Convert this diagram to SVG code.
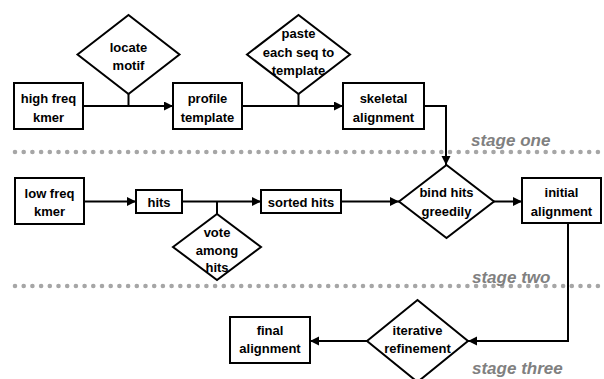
<svg xmlns="http://www.w3.org/2000/svg" width="604" height="379" viewBox="0 0 604 379">
<style>
.box{fill:#fff;stroke:#000;stroke-width:2}
.dia{fill:#fff;stroke:#000;stroke-width:2;stroke-linejoin:miter}
.t{font-family:"Liberation Sans",Arial,sans-serif;font-weight:bold;font-size:13px;fill:#000;text-anchor:middle}
.st{font-family:"Liberation Sans",Arial,sans-serif;font-weight:bold;font-style:italic;font-size:17px;fill:#808080}
.dots{stroke:#a6a6a6;stroke-width:4.6;stroke-linecap:round;stroke-dasharray:0 8.7;fill:none}
.c{fill:none;stroke:#000;stroke-width:2}
</style>
<defs>
<marker id="ah" markerUnits="userSpaceOnUse" markerWidth="10" markerHeight="10" refX="9" refY="4.5" orient="auto">
<path d="M0,0 L9,4.5 L0,9 z" fill="#000"/>
</marker>
</defs>
<rect width="604" height="379" fill="#fff"/>
<g id="separators">
<line class="dots" x1="15" y1="152" x2="604" y2="152"/>
<line class="dots" x1="15" y1="286" x2="604" y2="286"/>
<text class="st" x="471" y="146">stage one</text>
<text class="st" x="472" y="283">stage two</text>
<text class="st" x="472" y="374">stage three</text>
</g>
<g id="connectors">
<path class="c" d="M83,106 H173" marker-end="url(#ah)"/>
<path class="c" d="M128.5,94 V106"/>
<path class="c" d="M242,106 H343" marker-end="url(#ah)"/>
<path class="c" d="M298.5,94 V106"/>
<path class="c" d="M424,106 H446 V165" marker-end="url(#ah)"/>
<path class="c" d="M84,201.5 H136" marker-end="url(#ah)"/>
<path class="c" d="M182,201.5 H261" marker-end="url(#ah)"/>
<path class="c" d="M217,214 V201.5"/>
<path class="c" d="M341,201.5 H399" marker-end="url(#ah)"/>
<path class="c" d="M494,201.5 H522" marker-end="url(#ah)"/>
<path class="c" d="M568,223 V341 H468" marker-end="url(#ah)"/>
<path class="c" d="M367,341 H310" marker-end="url(#ah)"/>
</g>
<g id="high_freq_kmer">
<rect class="box" x="14" y="83" width="69" height="46"/>
<text class="t" x="48.5" y="102.5">high freq</text>
<text class="t" x="48.5" y="121.5">kmer</text>
</g>
<g id="locate_motif">
<polygon class="dia" points="77.5,54.5 128.5,15 179.5,54.5 128.5,94"/>
<text class="t" x="128.5" y="51.5">locate</text>
<text class="t" x="128.5" y="69.5">motif</text>
</g>
<g id="profile_template">
<rect class="box" x="173" y="83" width="69" height="46"/>
<text class="t" x="207.5" y="102.5">profile</text>
<text class="t" x="207.5" y="121.5">template</text>
</g>
<g id="paste_each_seq">
<polygon class="dia" points="247,54.5 298.5,15 350,54.5 298.5,94"/>
<text class="t" x="298.5" y="37.5">paste</text>
<text class="t" x="298.5" y="56.5">each seq to</text>
<text class="t" x="298.5" y="74.5">template</text>
</g>
<g id="skeletal_alignment">
<rect class="box" x="343" y="83" width="81" height="46"/>
<text class="t" x="383.5" y="102.5">skeletal</text>
<text class="t" x="383.5" y="121.5">alignment</text>
</g>
<g id="low_freq_kmer">
<rect class="box" x="15" y="178" width="69" height="46"/>
<text class="t" x="49.5" y="197.5">low freq</text>
<text class="t" x="49.5" y="215.5">kmer</text>
</g>
<g id="hits">
<rect class="box" x="136" y="190" width="46" height="23"/>
<text class="t" x="159" y="206.5">hits</text>
</g>
<g id="vote_among_hits">
<polygon class="dia" points="173,247 217,214 261,247 217,280"/>
<text class="t" x="217" y="236.5">vote</text>
<text class="t" x="217" y="254.5">among</text>
<text class="t" x="217" y="271.5">hits</text>
</g>
<g id="sorted_hits">
<rect class="box" x="261" y="190" width="80" height="23"/>
<text class="t" x="301" y="206.5">sorted hits</text>
</g>
<g id="bind_hits_greedily">
<polygon class="dia" points="399,201.5 446.5,165 494,201.5 446.5,238"/>
<text class="t" x="446.5" y="196.5">bind hits</text>
<text class="t" x="446.5" y="215.5">greedily</text>
</g>
<g id="initial_alignment">
<rect class="box" x="522" y="178" width="79" height="45"/>
<text class="t" x="561.5" y="196.5">initial</text>
<text class="t" x="561.5" y="215.5">alignment</text>
</g>
<g id="iterative_refinement">
<polygon class="dia" points="367,341 417.5,300 468,341 417.5,382"/>
<text class="t" x="417.5" y="334.5">iterative</text>
<text class="t" x="417.5" y="352.5">refinement</text>
</g>
<g id="final_alignment">
<rect class="box" x="230" y="317" width="80" height="46"/>
<text class="t" x="270" y="334.5">final</text>
<text class="t" x="270" y="352.5">alignment</text>
</g>
</svg>
